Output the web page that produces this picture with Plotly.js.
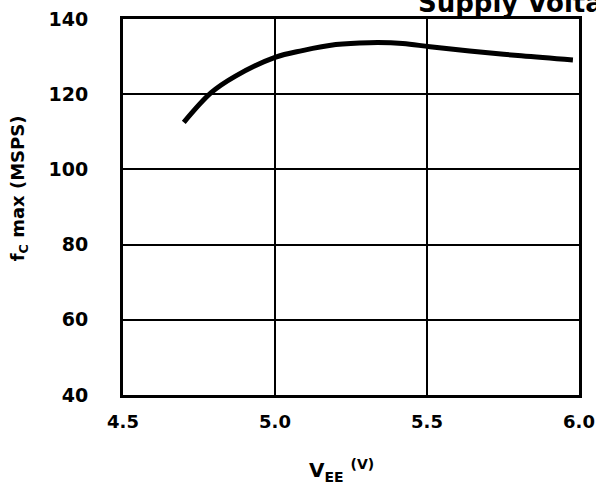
<!DOCTYPE html>
<html>
<head>
<meta charset="utf-8">
<script src="https://cdn.plot.ly/plotly-3.0.1.min.js"></script>
<style>
html,body{margin:0;padding:0;background:#fff;}
#chart{width:596px;height:488px;}
</style>
</head>
<body>
<div id="chart"></div>
<script>
// Supply voltage (V) and maximum conversion rate (MSPS)
const vee = [4.70, 4.79, 4.87, 5.00, 5.09, 5.20, 5.31, 5.42, 5.51, 5.64, 5.81, 5.98];
const fcMax = [112.5, 120.4, 124.8, 129.8, 131.6, 133.2, 133.7, 133.5, 132.6, 131.5, 130.2, 129.1];

const xTickVals = [4.5, 5.0, 5.5, 6.0];
const xTickText = ["4.5", "5.0", "5.5", "6.0"];
const yTickVals = [40, 60, 80, 100, 120, 140];
const yTickText = ["40", "60", "80", "100", "120", "140"];

const chartTitle = "Supply Voltage";
const xTitle = "V<sub>EE</sub> <sup>(V)</sup>";
const yTitle = "f<sub>C</sub> max (MSPS)";

const fontFam = "DejaVu Sans, sans-serif";

const trace = {
  x: vee,
  y: fcMax,
  type: "scatter",
  mode: "lines",
  line: {color: "#000", width: 5, shape: "spline", smoothing: 1},
  hoverinfo: "x+y",
  showlegend: false
};

const layout = {
  width: 596,
  height: 488,
  margin: {l: 123, r: 17, t: 19, b: 93},
  paper_bgcolor: "#fff",
  plot_bgcolor: "#fff",
  font: {family: fontFam, color: "#000", size: 18, weight: "bold"},
  xaxis: {
    range: [4.5, 6.0],
    tickvals: xTickVals,
    ticktext: xTickText,
    ticks: "",
    ticklabelstandoff: 8,
    tickfont: {family: fontFam, size: 18, color: "#000", weight: "bold"},
    showgrid: true,
    gridcolor: "#000",
    gridwidth: 2,
    showline: true,
    linecolor: "#000",
    linewidth: 3,
    mirror: true,
    zeroline: false,
    fixedrange: true
  },
  yaxis: {
    range: [40, 140],
    tickvals: yTickVals,
    ticktext: yTickText,
    ticks: "",
    ticklabelstandoff: 28,
    tickfont: {family: fontFam, size: 19, color: "#000", weight: "bold"},
    showgrid: true,
    gridcolor: "#000",
    gridwidth: 2,
    showline: true,
    linecolor: "#000",
    linewidth: 3,
    mirror: true,
    zeroline: false,
    fixedrange: true
  },
  annotations: [
    {
      text: chartTitle,
      xref: "paper", yref: "paper",
      x: 0.643, y: 1.042,
      xanchor: "left", yanchor: "middle",
      showarrow: false,
      font: {family: fontFam, size: 26, color: "#000", weight: "bold"}
    },
    {
      text: xTitle,
      xref: "paper", yref: "paper",
      x: 0.48, y: -0.2,
      xanchor: "center", yanchor: "middle",
      showarrow: false,
      font: {family: fontFam, size: 20, color: "#000", weight: "bold"}
    },
    {
      text: yTitle,
      xref: "paper", yref: "paper",
      x: -0.228, y: 0.55,
      xanchor: "center", yanchor: "middle",
      textangle: -90,
      showarrow: false,
      font: {family: fontFam, size: 18, color: "#000", weight: "bold"}
    }
  ]
};

Plotly.newPlot("chart", [trace], layout, {displayModeBar: false, staticPlot: true});
</script>
</body>
</html>
